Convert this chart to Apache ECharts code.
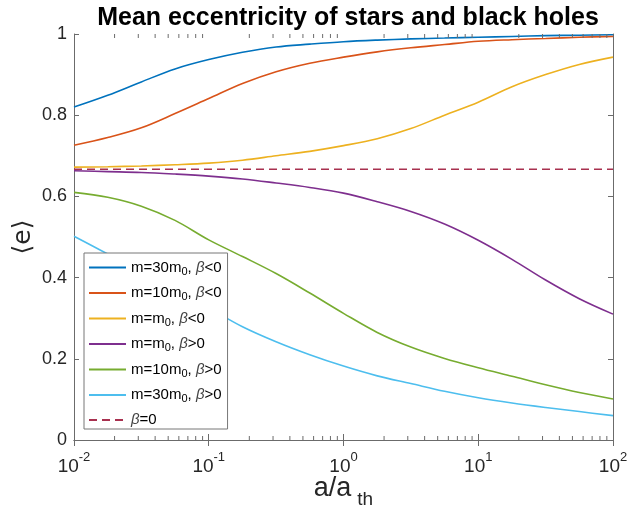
<!DOCTYPE html>
<html>
<head>
<meta charset="utf-8">
<script src="https://cdn.jsdelivr.net/npm/echarts@6/dist/echarts.min.js"></script>
<style>html,body{margin:0;padding:0;background:#fff}#c{width:642px;height:512px}</style>
</head>
<body>
<div id="c"></div>
<script>
// ---- data (quarter-decade samples) ----
const xs = [0.01, 0.0178, 0.0316, 0.0562, 0.1, 0.178, 0.316, 0.562, 1, 1.78, 3.16, 5.62, 10, 17.8, 31.6, 56.2, 100];
const m30neg = [0.820, 0.849, 0.882, 0.914, 0.937, 0.955, 0.968, 0.975, 0.981, 0.985, 0.988, 0.990, 0.992, 0.994, 0.996, 0.997, 0.998];
const m10neg = [0.726, 0.745, 0.769, 0.804, 0.841, 0.878, 0.907, 0.928, 0.943, 0.956, 0.966, 0.974, 0.982, 0.986, 0.989, 0.992, 0.994];
const m1neg  = [0.672, 0.673, 0.675, 0.678, 0.682, 0.689, 0.700, 0.711, 0.725, 0.742, 0.767, 0.800, 0.832, 0.870, 0.900, 0.925, 0.943];
const m1pos  = [0.663, 0.661, 0.659, 0.655, 0.650, 0.643, 0.633, 0.622, 0.608, 0.587, 0.563, 0.532, 0.492, 0.445, 0.394, 0.348, 0.310];
const m10pos = [0.610, 0.598, 0.576, 0.541, 0.493, 0.452, 0.410, 0.362, 0.312, 0.265, 0.229, 0.201, 0.178, 0.157, 0.136, 0.117, 0.101];
const m30pos = [0.502, 0.458, 0.412, 0.367, 0.325, 0.279, 0.242, 0.210, 0.182, 0.158, 0.139, 0.120, 0.104, 0.091, 0.080, 0.070, 0.060];
const zeroX = [0.01, 100];
const zeroY = [0.6667, 0.6667];

const seriesNames = ['m=30m0, β<0', 'm=10m0, β<0', 'm=m0, β<0', 'm=m0, β>0', 'm=10m0, β>0', 'm=30m0, β>0', 'β=0'];
const legendLabels = [
  'm=30m{sub|0}, {it|β}<0',
  'm=10m{sub|0}, {it|β}<0',
  'm=m{sub|0}, {it|β}<0',
  'm=m{sub|0}, {it|β}>0',
  'm=10m{sub|0}, {it|β}>0',
  'm=30m{sub|0}, {it|β}>0',
  '{it|β}=0'
];
const colors = ['#0072BD', '#D95319', '#EDB120', '#7E2F8E', '#77AC30', '#4DBEEE', '#A8304F'];
const xTickExps = {'0.01': '-2', '0.1': '-1', '1': '0', '10': '1', '100': '2'};
const yTickLabels = {'0': '0', '0.2': '0.2', '0.4': '0.4', '0.6': '0.6', '0.8': '0.8', '1': '1'};
const minorTicks = [0.02,0.03,0.04,0.05,0.06,0.07,0.08,0.09, 0.2,0.3,0.4,0.5,0.6,0.7,0.8,0.9, 2,3,4,5,6,7,8,9, 20,30,40,50,60,70,80,90];

const FONT = '"Liberation Sans", Arial, Helvetica, sans-serif';
const AX = '#6b6b6b';

const pairs = (x, y) => x.map((v, i) => [v, y[i]]);
const dataSets = [m30neg, m10neg, m1neg, m1pos, m10pos, m30pos];

const lineSeries = dataSets.map((d, i) => ({
  name: seriesNames[i], type: 'line', data: pairs(xs, d), smooth: 0.35,
  symbol: 'none', showSymbol: false, silent: true,
  lineStyle: {color: colors[i], width: 1.6}, itemStyle: {color: colors[i]}, z: 3
}));
lineSeries.push({
  name: seriesNames[6], type: 'line', data: pairs(zeroX, zeroY),
  symbol: 'none', showSymbol: false, silent: true,
  lineStyle: {color: colors[6], width: 1.6, type: [8, 5]}, itemStyle: {color: colors[6]}, z: 3
});
lineSeries.push({
  type: 'custom', silent: true, z: 4, data: minorTicks.map(v => [v]),
  encode: {x: 0},
  renderItem: function (params, api) {
    const v = api.value(0);
    const pb = api.coord([v, 0]);
    const pt = api.coord([v, 1]);
    return {
      type: 'group', children: [
        {type: 'line', shape: {x1: pb[0], y1: pb[1], x2: pb[0], y2: pb[1] - 4}, style: {stroke: AX, lineWidth: 1}},
        {type: 'line', shape: {x1: pt[0], y1: pt[1], x2: pt[0], y2: pt[1] + 4}, style: {stroke: AX, lineWidth: 1}}
      ]
    };
  }
});

const xLabelRich = {
  b: {fontSize: 19, fontFamily: FONT, color: '#262626', lineHeight: 20},
  s: {fontSize: 13, fontFamily: FONT, color: '#262626', lineHeight: 20, padding: [0, 0, 19, 0]}
};

const chart = echarts.init(document.getElementById('c'), null, {renderer: 'canvas'});
chart.setOption({
  animation: false,
  backgroundColor: '#fff',
  title: {
    text: 'Mean eccentricity of stars and black holes',
    left: 348, textAlign: 'center', top: 6, padding: 0,
    textStyle: {fontFamily: FONT, fontWeight: 'bold', fontSize: 25, color: '#000'}
  },
  grid: {left: 74, right: 29, top: 34, bottom: 72, containLabel: false, outerBoundsMode: 'none', show: false},
  legend: {
    orient: 'vertical', left: 84, top: 253,
    data: seriesNames,
    itemWidth: 37, itemHeight: 14, itemGap: 6.5,
    padding: [5, 6, 0, 4],
    backgroundColor: '#fff', borderColor: '#777', borderWidth: 1, borderRadius: 0,
    selectedMode: false,
    itemStyle: {opacity: 0},
    formatter: function (name) { return legendLabels[seriesNames.indexOf(name)]; },
    textStyle: {
      fontFamily: FONT, fontSize: 15, color: '#000', lineHeight: 18,
      rich: {
        sub: {fontFamily: FONT, fontSize: 11, color: '#000', lineHeight: 18, padding: [8, 0, 0, 0]},
        it: {fontFamily: FONT, fontSize: 15, fontStyle: 'italic', color: '#444', lineHeight: 18}
      }
    }
  },
  xAxis: [{
    type: 'log', logBase: 10, min: 0.01, max: 100, position: 'bottom',
    name: '{n|a/a}{s|th}', nameLocation: 'middle', nameGap: 34, nameMoveOverlap: false,
    nameTextStyle: {verticalAlign: 'top', rich: {
      n: {fontFamily: FONT, fontSize: 27, color: '#262626', lineHeight: 30},
      s: {fontFamily: FONT, fontSize: 19, color: '#262626', lineHeight: 30, padding: [22, 0, 0, 6]}
    }},
    axisLine: {show: true, lineStyle: {color: AX, width: 1}},
    axisTick: {show: true, inside: true, length: 6, lineStyle: {color: AX}},
    splitLine: {show: false},
    axisLabel: {
      margin: 17,
      formatter: function (v) { const k = xTickExps[String(v)]; return k === undefined ? '' : '{b|10}{s|' + k + '}'; },
      rich: xLabelRich
    }
  }, {
    type: 'log', logBase: 10, min: 0.01, max: 100, position: 'top',
    axisLine: {show: true, lineStyle: {color: AX, width: 1}},
    axisTick: {show: true, inside: true, length: 6, lineStyle: {color: AX}},
    axisLabel: {show: false}, splitLine: {show: false}
  }],
  yAxis: [{
    type: 'value', min: 0, max: 1, interval: 0.2, position: 'left',
    name: '⟨e⟩', nameLocation: 'middle', nameGap: 38, nameRotate: 90, nameMoveOverlap: false,
    nameTextStyle: {fontFamily: '"DejaVu Sans", sans-serif', fontSize: 25, color: '#262626'},
    axisLine: {show: true, lineStyle: {color: AX, width: 1}},
    axisTick: {show: true, inside: true, length: 5, lineStyle: {color: AX}},
    splitLine: {show: false},
    axisLabel: {
      margin: 7, fontFamily: FONT, fontSize: 18, color: '#262626',
      formatter: function (v) { const k = yTickLabels[String(Math.round(v * 10) / 10)]; return k === undefined ? '' : k; }
    }
  }, {
    type: 'value', min: 0, max: 1, interval: 0.2, position: 'right',
    axisLine: {show: true, lineStyle: {color: AX, width: 1}},
    axisTick: {show: true, inside: true, length: 5, lineStyle: {color: AX}},
    axisLabel: {show: false}, splitLine: {show: false}
  }],
  series: lineSeries
});
</script>
</body>
</html>
